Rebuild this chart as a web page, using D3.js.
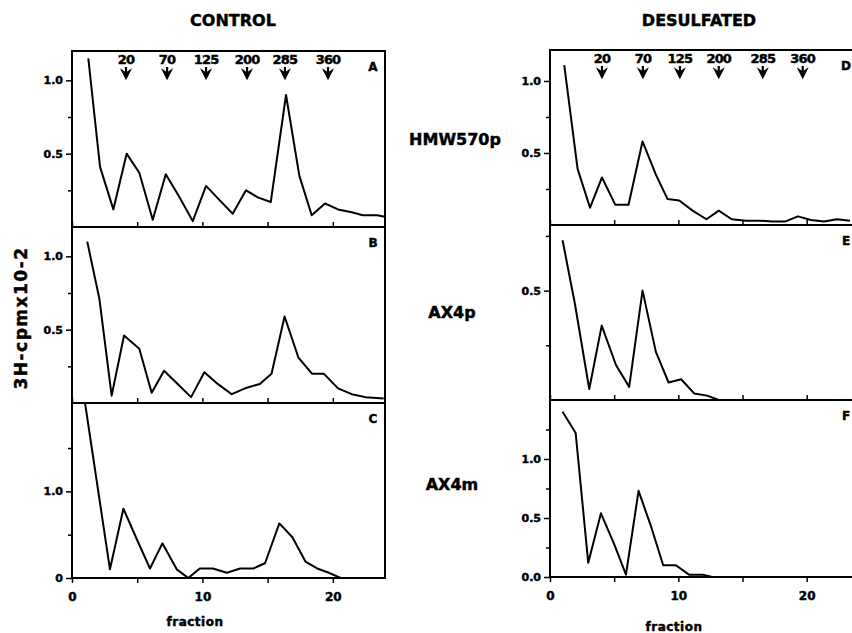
<!DOCTYPE html>
<html>
<head>
<script src="https://d3js.org/d3.v7.min.js"></script>
<style>
  body { margin: 0; background: #fff; }
  svg { display: block; font-family: 'DejaVu Sans', sans-serif; font-weight: bold; }
  svg text { stroke: #000; stroke-width: 0.45px; fill: #000; }
  .tick text { font-family: 'DejaVu Sans', sans-serif; font-weight: bold; }
</style>
</head>
<body>
<div id="chart"></div>
<script>
// Data (fraction number, 3H-cpm x 10^-2)
const fracA = [1.25, 2.15, 3.17, 4.19, 5.16, 6.19, 7.19, 8.2, 9.26, 10.28, 11.35, 12.32, 13.34, 14.29, 15.24, 16.41, 17.43, 18.38, 19.4, 20.4, 21.45, 22.3, 23.4, 24];
const valA  = [1.15, 0.41, 0.12, 0.50, 0.37, 0.05, 0.36, 0.21, 0.04, 0.28, 0.18, 0.09, 0.25, 0.20, 0.17, 0.90, 0.35, 0.08, 0.16, 0.12, 0.10, 0.08, 0.08, 0.07];

const fracB = [1.17, 2.1, 3.04, 3.99, 5.16, 6.11, 7.06, 8.1, 9.13, 10.15, 11.17, 12.25, 13.27, 14.4, 15.3, 16.3, 17.36, 18.4, 19.3, 20.4, 21.45, 22.5, 23.9];
const valB  = [1.10, 0.71, 0.05, 0.46, 0.37, 0.07, 0.22, 0.13, 0.04, 0.21, 0.13, 0.06, 0.10, 0.13, 0.20, 0.59, 0.31, 0.20, 0.20, 0.10, 0.06, 0.04, 0.03];

const fracC = [1.0, 2.91, 3.94, 4.96, 5.98, 6.93, 8.03, 8.92, 9.8, 10.8, 11.87, 12.9, 13.9, 14.8, 15.9, 16.9, 17.9, 18.8, 19.7, 20.6, 24];
const valC  = [2.02, 0.10, 0.80, 0.45, 0.11, 0.40, 0.10, 0.0, 0.11, 0.11, 0.06, 0.11, 0.11, 0.17, 0.63, 0.47, 0.19, 0.11, 0.06, 0.0, 0.0];

const fracD = [1.11, 2.15, 3.12, 4.05, 5.09, 6.12, 7.21, 8.25, 9.16, 10.07, 11.11, 12.19, 13.15, 14.16, 15.28, 16.29, 17.3, 18.36, 19.32, 20.33, 21.35, 22.36, 23.37];
const valD  = [1.11, 0.39, 0.12, 0.33, 0.14, 0.14, 0.58, 0.35, 0.18, 0.17, 0.10, 0.04, 0.10, 0.04, 0.03, 0.03, 0.025, 0.025, 0.06, 0.035, 0.025, 0.04, 0.03];

const fracE = [0.98, 1.94, 3.06, 4.03, 5.14, 6.17, 7.21, 8.25, 9.24, 10.22, 11.23, 12.24, 13.15, 24];
const valE  = [0.73, 0.44, 0.05, 0.34, 0.16, 0.06, 0.50, 0.22, 0.08, 0.095, 0.03, 0.02, 0.0, 0.0];

const fracF = [0.98, 2.0, 2.98, 3.97, 4.96, 5.92, 6.9, 7.9, 8.82, 9.81, 10.83, 11.89, 12.65, 24];
const valF  = [1.40, 1.22, 0.12, 0.54, 0.29, 0.02, 0.73, 0.42, 0.10, 0.10, 0.02, 0.02, 0.0, 0.0];

// marker arrows (standards) over the top panels
const markerLabels = ["20", "70", "125", "200", "285", "360"];
const markerFracLeft = [4.14, 7.29, 10.28, 13.42, 16.33, 19.63];
const markerFracRight = [4.05, 7.24, 10.12, 13.15, 16.58, 19.69];

const columnTitles = ["CONTROL", "DESULFATED"];
const rowLabels = ["HMW570p", "AX4p", "AX4m"];
const xTicks = [0, 5, 10, 15, 20];
const xTickLabels = [0, 10, 20];

const width = 852, height = 633;

const columns = [
    { x0: 72, x1: 385, title: columnTitles[0], titleX: 233, markers: markerFracLeft, fracY: 626, fracX: 195 },
    { x0: 550, x1: 858, title: columnTitles[1], titleX: 699, markers: markerFracRight, fracY: 631, fracX: 674 }
];

const panels = [
    { col: 0, top: 51, bottom: 227, ymax: 1.2, major: [0.5, 1.0], minor: [0.25, 0.75], letter: "A", x: fracA, y: valA, last: false },
    { col: 0, top: 227, bottom: 403, ymax: 1.2, major: [0.5, 1.0], minor: [0.25, 0.75], letter: "B", x: fracB, y: valB, last: false },
    { col: 0, top: 403, bottom: 578, ymax: 2.02, major: [0, 1.0], minor: [0.5, 1.5], letter: "C", x: fracC, y: valC, last: true, fmt: d => d === 0 ? "0" : d3.format(".1f")(d) },
    { col: 1, top: 50, bottom: 225, ymax: 1.215, major: [0.5, 1.0], minor: [0.25, 0.75], letter: "D", x: fracD, y: valD, last: false },
    { col: 1, top: 225, bottom: 400, ymax: 0.8, major: [0.5], minor: [0.25, 0.75], letter: "E", x: fracE, y: valE, last: false },
    { col: 1, top: 400, bottom: 577, ymax: 1.5, major: [0, 0.5, 1.0], minor: [0.25, 0.75, 1.25], letter: "F", x: fracF, y: valF, last: true }
];

const svg = d3.select("#chart").append("svg")
    .attr("width", width)
    .attr("height", height);

columns.forEach(c => {
    c.xScale = d3.scaleLinear().domain([0, 24]).range([c.x0, c.x1]);
    svg.append("text")
        .attr("x", c.titleX).attr("y", 26)
        .attr("text-anchor", "middle")
        .style("font-size", "16px")
        .text(c.title);
});

panels.forEach((p, i) => {
    const c = columns[p.col];
    const x = c.xScale;
    const y = d3.scaleLinear().domain([0, p.ymax]).range([p.bottom, p.top]);
    const g = svg.append("g");

    g.append("clipPath").attr("id", "clip" + i)
        .append("rect")
        .attr("x", c.x0).attr("y", p.top)
        .attr("width", c.x1 - c.x0).attr("height", p.bottom - p.top);

    // y axis: labelled ticks and minor ticks
    const fmt = p.fmt || d3.format(".1f");
    g.append("g")
        .attr("transform", `translate(${c.x0},0)`)
        .call(d3.axisLeft(y).tickValues(p.major).tickSize(6).tickPadding(3).tickFormat(fmt))
        .call(a => a.select(".domain").remove())
        .call(a => a.selectAll("line").attr("stroke-width", 1.5))
        .call(a => a.selectAll("text").style("font-size", "11px").attr("fill", "#000"));
    g.append("g")
        .attr("transform", `translate(${c.x0},0)`)
        .call(d3.axisLeft(y).tickValues(p.minor).tickSize(4).tickFormat(""))
        .call(a => a.select(".domain").remove())
        .call(a => a.selectAll("line").attr("stroke-width", 1.5));

    // x axis
    if (p.last) {
        g.append("g")
            .attr("transform", `translate(0,${p.bottom})`)
            .call(d3.axisBottom(x).tickValues(xTicks).tickSize(5).tickPadding(9)
                .tickFormat(d => xTickLabels.includes(d) ? d : ""))
            .call(a => a.select(".domain").remove())
            .call(a => a.selectAll("line").attr("stroke-width", 1.5))
            .call(a => a.selectAll("text").style("font-size", "12px").attr("fill", "#000"));
        g.append("text")
            .attr("x", c.fracX).attr("y", c.fracY)
            .attr("text-anchor", "middle")
            .attr("letter-spacing", "0.5")
            .style("font-size", "12px")
            .text("fraction");
    } else {
        g.append("g")
            .attr("transform", `translate(0,${p.bottom})`)
            .call(d3.axisBottom(x).tickValues(xTicks).tickSize(-5).tickFormat(""))
            .call(a => a.select(".domain").remove())
            .call(a => a.selectAll("line").attr("stroke-width", 1.5));
    }

    // frame
    g.append("rect")
        .attr("x", c.x0).attr("y", p.top)
        .attr("width", c.x1 - c.x0).attr("height", p.bottom - p.top)
        .attr("fill", "none").attr("stroke", "#000").attr("stroke-width", 2);

    // profile line
    const pts = p.x.map((f, k) => [f, p.y[k]]);
    g.append("path")
        .datum(pts)
        .attr("clip-path", `url(#clip${i})`)
        .attr("fill", "none")
        .attr("stroke", "#000")
        .attr("stroke-width", 2)
        .attr("stroke-linejoin", "round")
        .attr("d", d3.line().x(d => x(d[0])).y(d => y(d[1])));

    // panel letter
    g.append("text")
        .attr("x", c.x1 - 12).attr("y", p.top + 20)
        .attr("text-anchor", "middle")
        .style("font-size", "12px")
        .text(p.letter);

    // marker arrows on top panels
    if (p.top < 100) {
        const mk = g.selectAll(".marker")
            .data(markerLabels.map((l, k) => ({ label: l, f: c.markers[k] })))
            .join("g")
            .attr("transform", d => `translate(${x(d.f)},0)`);
        mk.append("text")
            .attr("y", p.top + 13)
            .attr("text-anchor", "middle")
            .attr("letter-spacing", "-0.8")
            .style("font-size", "13px")
            .text(d => d.label);
        mk.append("line")
            .attr("y1", p.top + 16).attr("y2", p.top + 25)
            .attr("stroke", "#000").attr("stroke-width", 2.2);
        mk.append("path")
            .attr("d", `M-4.5,${p.top + 19} L0,${p.top + 28} L4.5,${p.top + 19} L0,${p.top + 22} Z`)
            .attr("fill", "#000").attr("stroke", "#000").attr("stroke-width", 1.2);
    }
});

// row labels between the columns
const rowY = [145, 318, 490];
rowLabels.forEach((r, k) => {
    svg.append("text")
        .attr("x", k === 0 ? 455 : 452).attr("y", rowY[k])
        .attr("text-anchor", "middle")
        .style("font-size", "16px")
        .text(r);
});

// y axis title
svg.append("text")
    .attr("transform", "translate(27,318) rotate(-90)")
    .attr("text-anchor", "middle")
    .attr("letter-spacing", "1.5")
    .style("font-size", "17px")
    .text("3H-cpmx10-2");
</script>
</body>
</html>
